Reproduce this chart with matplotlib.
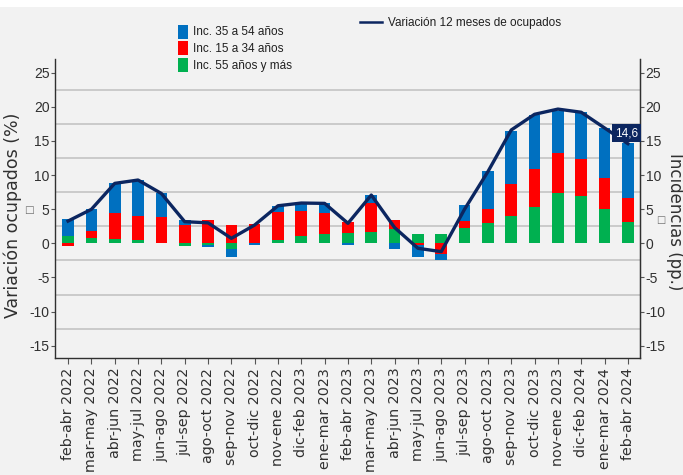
import numpy as np
import matplotlib
matplotlib.use("Agg")
import matplotlib.pyplot as plt
from matplotlib.patches import Patch, Rectangle
from matplotlib.lines import Line2D

categories = ['feb-abr 2022', 'mar-may 2022', 'abr-jun 2022', 'may-jul 2022', 'jun-ago 2022',
              'jul-sep 2022', 'ago-oct 2022', 'sep-nov 2022', 'oct-dic 2022', 'nov-ene 2022',
              'dic-feb 2023', 'ene-mar 2023', 'feb-abr 2023', 'mar-may 2023', 'abr-jun 2023',
              'may-jul 2023', 'jun-ago 2023', 'jul-sep 2023', 'ago-oct 2023', 'sep-nov 2023',
              'oct-dic 2023', 'nov-ene 2023', 'dic-feb 2024', 'ene-mar 2024', 'feb-abr 2024']

inc_55_mas = [1.07, 0.78, 0.63, 0.48, 0.05, -0.34, -0.30, -0.88, 0.05, 0.43, 1.12, 1.41, 1.50,
              1.70, 2.05, 1.36, 1.36, 2.24, 2.93, 4.00, 5.31, 7.36, 6.93, 5.02, 3.17]
inc_15_34 = [-0.34, 0.98, 3.76, 3.57, 3.80, 2.68, 3.40, 2.68, 2.85, 4.20, 3.61, 2.98, 1.56,
             4.25, 1.31, -0.30, -1.56, 0.98, 2.05, 4.73, 5.52, 5.86, 5.37, 4.59, 3.51]
inc_35_54 = [2.44, 3.22, 4.39, 5.22, 3.47, 0.73, -0.20, -1.08, -0.30, 0.87, 1.13, 1.47, -0.25,
             1.12, -0.88, -1.66, -0.88, 2.34, 5.62, 7.76, 7.95, 6.19, 6.92, 7.32, 7.96]
variacion = [3.26, 4.98, 8.78, 9.27, 7.3, 3.17, 3.0, 0.73, 2.68, 5.5, 5.9, 5.85, 2.93, 7.07,
             2.3, -0.73, -1.22, 5.0, 10.5, 16.6, 18.9, 19.66, 19.2, 16.9, 14.6]

yticks = [25, 20, 15, 10, 5, 0, -5, -10, -15]
grid_vals = [22.5, 17.5, 12.5, 7.5, 2.5, -2.5, -7.5, -12.5]

C_BLUE = '#0070C0'
C_RED = '#FF0000'
C_GREEN = '#00B050'
C_LINE = '#0c2660'
BG = '#f2f2f2'
TXT = '#303030'
NARROW = ['Liberation Sans', 'DejaVu Sans']

W, H = 683, 475
fig = plt.figure(figsize=(W / 100, H / 100), dpi=100, facecolor=BG)
fig.patches.append(Rectangle((0, 1 - 7 / H), 1, 7 / H, transform=fig.transFigure,
                             facecolor='white', edgecolor='none', zorder=0))
ax = fig.add_axes([55 / W, 1 - 358 / H, (640 - 55) / W, (358 - 59) / H])
ax.set_facecolor(BG)

x = np.arange(len(categories))
pos_bottom = np.zeros(len(x))
neg_bottom = np.zeros(len(x))
for vals, col in [(inc_55_mas, C_GREEN), (inc_15_34, C_RED), (inc_35_54, C_BLUE)]:
    v = np.array(vals)
    bottom = np.where(v >= 0, pos_bottom, neg_bottom)
    ax.bar(x, v, width=0.5, bottom=bottom, color=col, edgecolor='none', zorder=3)
    pos_bottom = pos_bottom + np.where(v >= 0, v, 0)
    neg_bottom = neg_bottom + np.where(v < 0, v, 0)

ax.plot(x, variacion, color=C_LINE, lw=2.4, zorder=5, solid_joinstyle='round')

for g in grid_vals:
    ax.axhline(g, color='#c4c4c4', lw=1.2, zorder=1)

ax.set_xlim(-0.56, 24.52)
ax.set_ylim(-16.8, 27.0)
ax.set_yticks(yticks)
ax.set_yticklabels([str(t) for t in yticks], family=NARROW, fontsize=10, color=TXT)
ax.set_xticks(x)
ax.set_xticklabels(categories, rotation=90, fontsize=10.3, color=TXT, family='DejaVu Sans')
ax.tick_params(axis='x', length=4, width=0.8, color='#555555', pad=3)
ax.tick_params(axis='y', length=3, width=0.8, color='#555555', pad=1)
ax.spines['top'].set_visible(False)
for s in ['left', 'right', 'bottom']:
    ax.spines[s].set_color('#303030')
    ax.spines[s].set_linewidth(1.0)

ax2 = ax.twinx()
ax2.set_ylim(ax.get_ylim())
ax2.set_yticks(yticks)
ax2.set_yticklabels([str(t) for t in yticks], family=NARROW, fontsize=10, color=TXT)
ax2.tick_params(axis='y', length=3, width=0.8, color='#555555', pad=1)
for s in ['top', 'left', 'bottom']:
    ax2.spines[s].set_visible(False)
ax2.spines['right'].set_color('#303030')

# axis titles (placed in figure pixels)
fig.text(13 / W, 1 - 215 / H, 'Variación ocupados (%)', rotation=90, ha='center', va='center',
         fontsize=12.5, color=TXT, family='DejaVu Sans')
fig.text(29 / W, 1 - 210 / H, '\u25a1', ha='center', va='center', fontsize=7.5,
         color='#707070', family='DejaVu Sans')
fig.text(675 / W, 1 - 222 / H, 'Incidencias (pp.)', rotation=-90, ha='center', va='center',
         fontsize=12, color=TXT, family='DejaVu Sans')
fig.text(661 / W, 1 - 220 / H, '\u25a1', ha='center', va='center', fontsize=7,
         color='#707070', family='DejaVu Sans')

ax2.annotate('14,6', xy=(x[-1], variacion[-1]), xytext=(-1, 7.5), textcoords='offset points',
             ha='center', va='center', color='white', fontsize=8.5, family=NARROW,
             bbox=dict(boxstyle='square,pad=0.25', facecolor=C_LINE, edgecolor='none'), zorder=6)

bar_handles = [Patch(facecolor=C_BLUE, label='Inc. 35 a 54 años'),
               Patch(facecolor=C_RED, label='Inc. 15 a 34 años'),
               Patch(facecolor=C_GREEN, label='Inc. 55 años y más')]
leg1 = fig.legend(handles=bar_handles, loc='upper left', bbox_to_anchor=(178 / W, 1 - 24.5 / H),
                  frameon=False, prop={'family': NARROW, 'size': 8.5}, borderpad=0,
                  handlelength=0.85, handleheight=1.45, handletextpad=0.45, labelspacing=0.25,
                  borderaxespad=0)
for t in leg1.get_texts():
    t.set_color('#202020')
line_handle = [Line2D([0], [0], color=C_LINE, lw=1.8, label='Variación 12 meses de ocupados')]
leg2 = fig.legend(handles=line_handle, loc='center left', bbox_to_anchor=(360 / W, 1 - 23 / H),
                  frameon=False, prop={'family': NARROW, 'size': 8.5}, borderpad=0,
                  handlelength=1.9, handletextpad=0.5, borderaxespad=0)
for t in leg2.get_texts():
    t.set_color('#202020')

fig.savefig('out.png', dpi=100, facecolor=BG)
